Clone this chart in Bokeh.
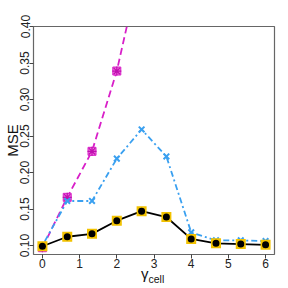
from bokeh.plotting import figure
from bokeh.models import Range1d, FixedTicker, NumeralTickFormatter, Div
from bokeh.layouts import column
from bokeh.embed import file_html
from bokeh.resources import INLINE

x_vals = [0, 0.667, 1.333, 2, 2.667, 3.333, 4, 4.667, 5.333, 6]
mse_black = [0.099, 0.112, 0.116, 0.134, 0.147, 0.139, 0.109, 0.103, 0.102, 0.101]
mse_blue = [0.100, 0.161, 0.161, 0.219, 0.259, 0.222, 0.118, 0.107, 0.107, 0.106]
x_magenta = [0, 0.667, 1.333, 2, 2.667]
mse_magenta = [0.097, 0.166, 0.229, 0.339, 0.49]
x_ticks = [0, 1, 2, 3, 4, 5, 6]
y_ticks = [0.10, 0.15, 0.20, 0.25, 0.30, 0.35, 0.40]

p = figure(width=280, height=270, output_backend="svg", toolbar_location=None,
           x_range=Range1d(-0.24, 6.24), y_range=Range1d(0.0877, 0.40),
           min_border_left=32, min_border_right=6, min_border_top=26, min_border_bottom=15)
p.xgrid.visible = False
p.ygrid.visible = False
p.outline_line_color = "#666666"
p.outline_line_width = 1.2

for ax in (p.xaxis[0], p.yaxis[0]):
    ax.axis_line_color = None
    ax.major_tick_line_color = "#444444"
    ax.minor_tick_line_color = None
    ax.major_tick_in = 0
    ax.major_tick_out = 4
    ax.major_label_standoff = 0
    ax.major_label_text_font = "Liberation Sans"
    ax.major_label_text_font_size = "12px"
    ax.major_label_text_color = "#222222"

p.xaxis[0].ticker = FixedTicker(ticks=x_ticks)
p.yaxis[0].ticker = FixedTicker(ticks=y_ticks)
p.yaxis[0].formatter = NumeralTickFormatter(format="0.00")
p.yaxis[0].major_label_orientation = "vertical"
p.yaxis[0].axis_label = "MSE"
p.yaxis[0].axis_label_standoff = -3
p.yaxis[0].axis_label_text_font = "Liberation Sans"
p.yaxis[0].axis_label_text_font_size = "15px"
p.yaxis[0].axis_label_text_font_style = "normal"
p.yaxis[0].axis_label_text_color = "#111111"

# magenta long-dash
p.line(x_magenta, mse_magenta, line_color="#d81fc8", line_width=1.8, line_dash="7 4")
p.scatter(x_magenta, mse_magenta, marker="square", size=8, fill_color="#ee70dc",
          line_color="#d81fc8", line_width=1)
p.scatter(x_magenta, mse_magenta, marker="asterisk", size=9, line_color="#c010b0", line_width=1.2)

# blue dot-dash
p.line(x_vals, mse_blue, line_color="#3aa0f0", line_width=1.8, line_dash="2 3 6 3")
p.scatter(x_vals, mse_blue, marker="x", size=8, line_color="#3aa0f0", line_width=2)

# black solid
p.line(x_vals, mse_black, line_color="black", line_width=1.8)
p.scatter(x_vals, mse_black, marker="square", size=10, fill_color="#f2c200", line_color=None)
p.scatter(x_vals, mse_black, marker="circle", size=7, fill_color="black", line_color=None)

xlabel = Div(text='γ<sub style="font-size:10.5px;">cell</sub>', width=280, height=16,
             margin=(-4, 0, 0, 0),
             styles={"padding-left": "141px", "font-family": "Liberation Sans",
                     "font-size": "15px", "line-height": "15px", "color": "#111111"})

layout = column(p, xlabel, spacing=0)
open("out.html", "w").write(file_html(layout, INLINE))
